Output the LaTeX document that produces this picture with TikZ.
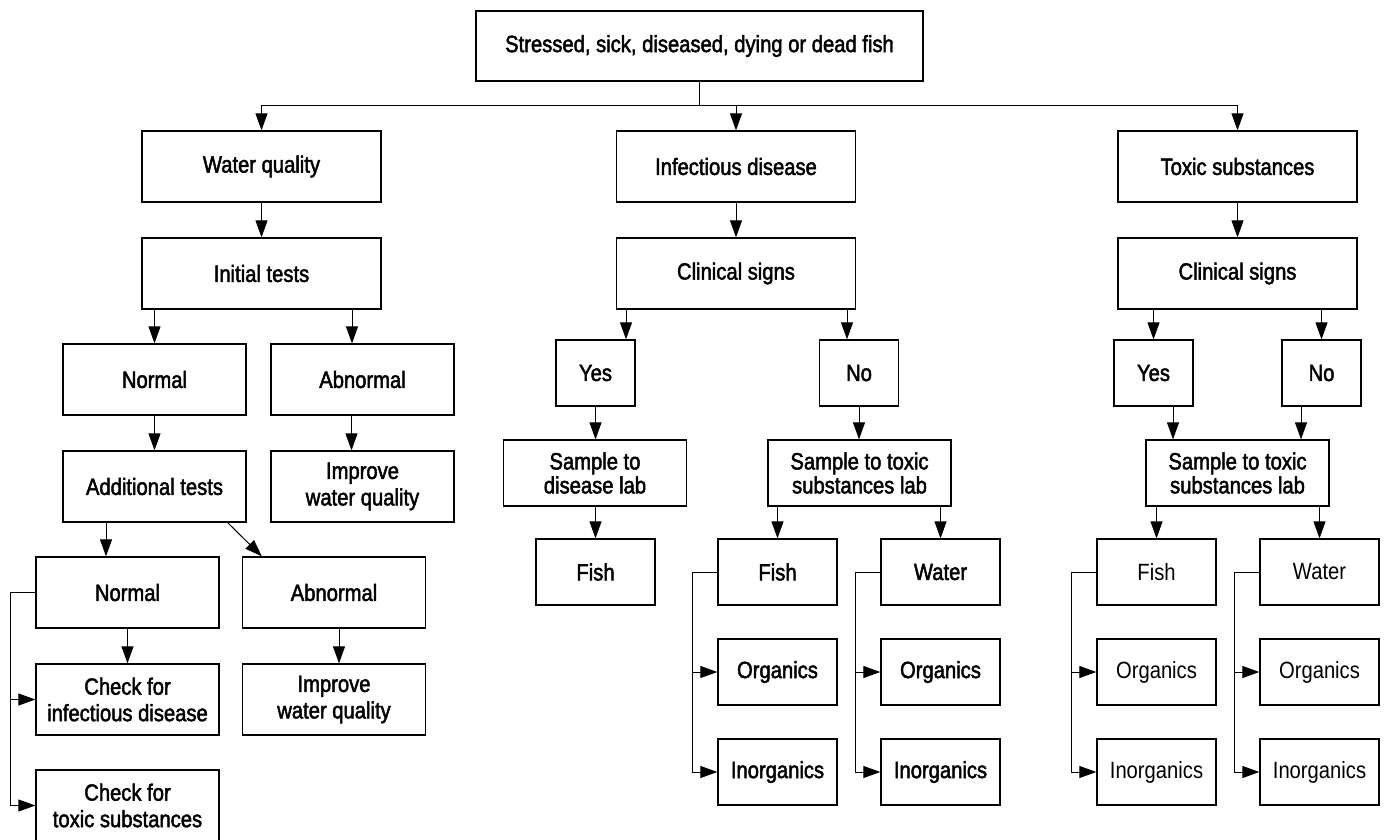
\documentclass[tikz,border=0pt]{standalone}
\usepackage{fontspec}
\setmainfont{Liberation Sans}[FakeStretch=0.86]
\newfontfamily\medfont{Liberation Sans}[FakeStretch=0.86,FakeBold=2]
\usetikzlibrary{arrows.meta}

\begin{document}
\begin{tikzpicture}[x=1pt, y=-1pt,
    flowbox/.style={draw, line width=1.3pt, inner sep=0pt, align=center,
        minimum width=183pt, minimum height=66pt,
        font=\medfont\fontsize{23.5}{24}\selectfont},
    lightbox/.style={flowbox, minimum width=119pt, font=\fontsize{23.5}{24}\selectfont},
    widebox/.style={flowbox, minimum width=239pt, minimum height=71pt},
    tallbox/.style={flowbox, minimum height=71pt, font=\medfont\fontsize{23.5}{26.5}\selectfont},
    arr/.style={-{Triangle[length=17pt,width=12pt]}, line width=1pt}]
    \useasboundingbox (0,0) rectangle (1384,839);
    \clip (0,0) rectangle (1384,839);

    % Top and the three causes
    \node[flowbox, minimum width=447pt, minimum height=70pt] (fish) at (699.5,46) {Stressed, sick, diseased, dying or dead fish};
    \node[widebox] (water) at (261.5,166.5) {Water quality};
    \node[widebox] (infect) at (736,166.5) {Infectious disease};
    \node[widebox] (toxic) at (1237.5,166.5) {Toxic substances};
    \node[widebox] (init) at (261.5,273.5) {Initial tests};
    \node[widebox] (clinA) at (736,273.5) {Clinical signs};
    \node[widebox] (clinB) at (1237.5,273.5) {Clinical signs};

    % Water quality column
    \node[tallbox] (normA) at (154.5,379.5) {Normal};
    \node[tallbox] (abnA) at (362.5,379.5) {Abnormal};
    \node[tallbox] (addt) at (154.5,486.5) {Additional tests};
    \node[tallbox] (impA) at (362.5,486.5) {Improve\\water quality};
    \node[tallbox] (normB) at (127.5,592.5) {Normal};
    \node[tallbox] (abnB) at (334,592.5) {Abnormal};
    \node[tallbox] (chkinf) at (127.5,699.5) {Check for\\infectious disease};
    \node[tallbox] (impB) at (334,699.5) {Improve\\water quality};
    \node[tallbox] (chktox) at (127.5,805.5) {Check for\\toxic substances};

    % Infectious disease column
    \node[flowbox, minimum width=79pt] (yesA) at (595.5,373) {Yes};
    \node[flowbox, minimum width=79pt] (noA) at (859,373) {No};
    \node[flowbox] (labA) at (595,473) {Sample to\\disease lab};
    \node[flowbox, minimum width=119pt] (fishA) at (595.5,572) {Fish};
    \node[flowbox] (labB) at (859.5,473) {Sample to toxic\\substances lab};
    \node[flowbox, minimum width=119pt] (fishB) at (777.5,572) {Fish};
    \node[flowbox, minimum width=119pt] (watB) at (940.5,572) {Water};
    \node[flowbox, minimum width=119pt] (orgB) at (777.5,672) {Organics};
    \node[flowbox, minimum width=119pt] (orgC) at (940.5,672) {Organics};
    \node[flowbox, minimum width=119pt] (inoB) at (777.5,772) {Inorganics};
    \node[flowbox, minimum width=119pt] (inoC) at (940.5,772) {Inorganics};

    % Toxic substances column
    \node[flowbox, minimum width=79pt] (yesB) at (1153.5,373) {Yes};
    \node[flowbox, minimum width=79pt] (noB) at (1321.5,373) {No};
    \node[flowbox] (labC) at (1237.5,473) {Sample to toxic\\substances lab};
    \node[lightbox] (fishC) at (1156.5,572) {Fish};
    \node[lightbox] (watC) at (1319.5,572) {Water};
    \node[lightbox] (orgD) at (1156.5,672) {Organics};
    \node[lightbox] (orgE) at (1319.5,672) {Organics};
    \node[lightbox] (inoD) at (1156.5,772) {Inorganics};
    \node[lightbox] (inoE) at (1319.5,772) {Inorganics};

    % Branches from the top
    \draw[line width=1pt] (fish.south) -- ++(0,24) coordinate (split);
    \draw[arr] (split) -| (water.north);
    \draw[arr] (split) -| (infect.north);
    \draw[arr] (split) -| (toxic.north);
    \draw[arr] (water) -- (init);
    \draw[arr] (infect) -- (clinA);
    \draw[arr] (toxic) -- (clinB);

    % Water quality arrows
    \draw[arr] (normA.north |- init.south) -- (normA.north);
    \draw[arr] ([xshift=-10.5pt]abnA.north |- init.south) -- ([xshift=-10.5pt]abnA.north);
    \draw[arr] ([xshift=-11pt]abnA.south) -- ([xshift=-11pt]impA.north);
    \draw[arr] (normA) -- (addt);
    \draw[arr] ([xshift=-21.5pt]normB.north |- addt.south) -- ([xshift=-21.5pt]normB.north);
    \draw[arr] ([xshift=-19pt]addt.south east) -- ([xshift=20pt]abnB.north west);
    \draw[arr] (normB) -- (chkinf);
    \draw[arr] ([xshift=5pt]abnB.south) -- ([xshift=5pt]impB.north);
    \draw[arr] (normB.west) -- ++(-25,0) coordinate (bendA) |- (chktox.west);
    \draw[arr] (bendA |- chkinf.west) -- (chkinf.west);

    % Infectious disease arrows
    \draw[arr] ([xshift=30.5pt]yesA.north |- clinA.south) -- ([xshift=30.5pt]yesA.north);
    \draw[arr] ([xshift=-12pt]noA.north |- clinA.south) -- ([xshift=-12pt]noA.north);
    \draw[arr] (yesA.south) -- (yesA.south |- labA.north);
    \draw[arr] (fishA.north |- labA.south) -- (fishA.north);
    \draw[arr] (noA.south) -- (noA.south |- labB.north);
    \draw[arr] (fishB.north |- labB.south) -- (fishB.north);
    \draw[arr] (watB.north |- labB.south) -- (watB.north);

    % Toxic substances arrows
    \draw[arr] (yesB.north |- clinB.south) -- (yesB.north);
    \draw[arr] (noB.north |- clinB.south) -- (noB.north);
    \draw[arr] ([xshift=19.5pt]yesB.south) -- ([xshift=19.5pt]yesB.south |- labC.north);
    \draw[arr] ([xshift=-20.5pt]noB.south) -- ([xshift=-20.5pt]noB.south |- labC.north);
    \draw[arr] (fishC.north |- labC.south) -- (fishC.north);
    \draw[arr] (watC.north |- labC.south) -- (watC.north);

    % Lab sample brackets
    \foreach \src/\orgn/\inorg in {fishB/orgB/inoB, watB/orgC/inoC, fishC/orgD/inoD, watC/orgE/inoE} {
        \draw[arr] (\src.west) -- ++(-25,0) coordinate (bend) |- (\inorg.west);
        \draw[arr] (bend |- \orgn.west) -- (\orgn.west);
    }
\end{tikzpicture}
\end{document}
